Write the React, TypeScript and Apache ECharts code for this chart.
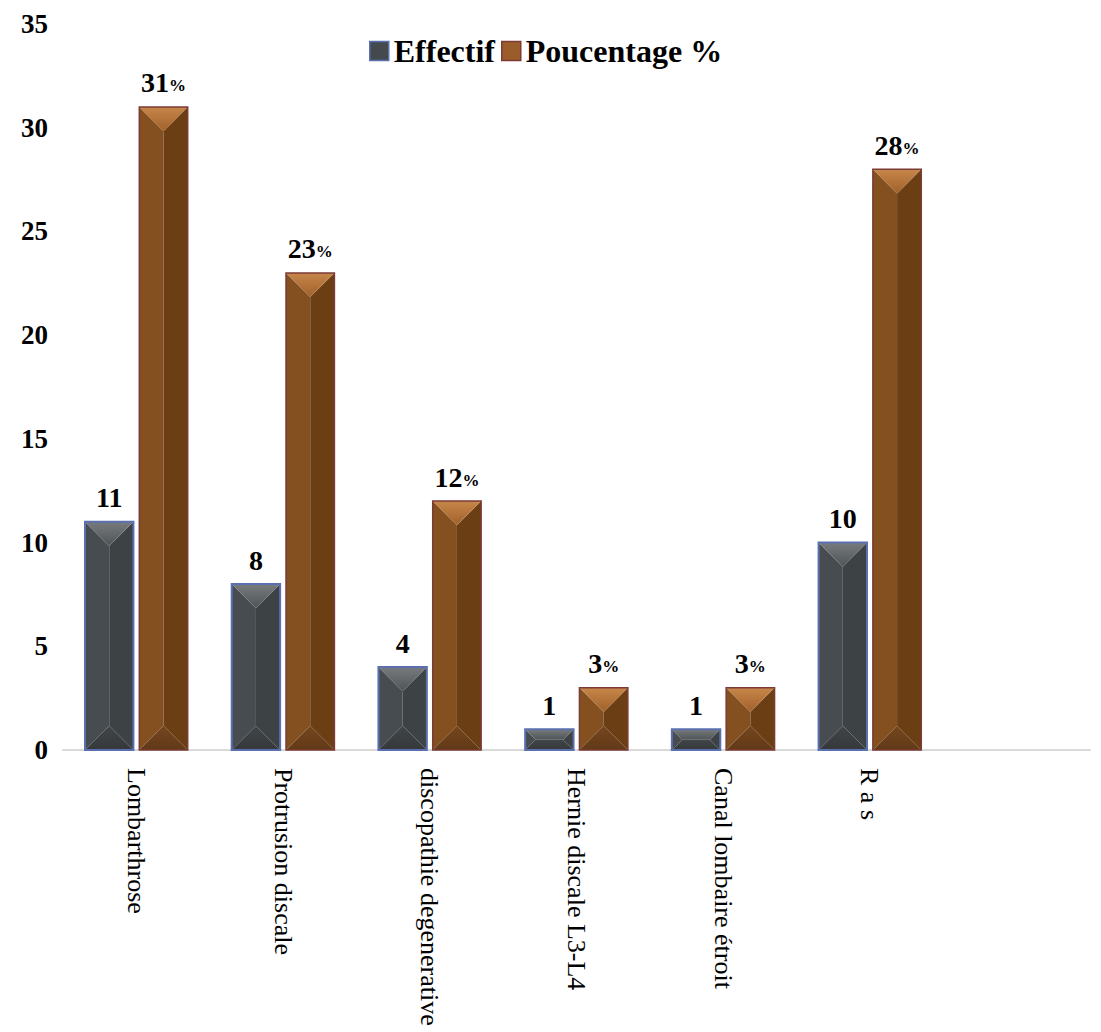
import React, { useEffect, useRef } from "react";
import * as echarts from "echarts";

// Categories (the last slot is left empty, as on the original axis)
const categories: string[] = [
  "Lombarthrose",
  "Protrusion discale",
  "discopathie degenerative",
  "Hernie discale L3-L4",
  "Canal lombaire étroit",
  "R a s",
  "",
];

const effectif: number[] = [11, 8, 4, 1, 1, 10];
const pourcentage: number[] = [31, 23, 12, 3, 3, 28];

const yTicks = { min: 0, max: 35, interval: 5 };

const FONT = '"Liberation Serif", "Times New Roman", serif';

type Palette = {
  left: string;
  right: string;
  topA: string;
  topB: string;
  bottomA: string;
  bottomB: string;
  border: string;
  borderWidth: number;
};

const darkPalette: Palette = {
  left: "#474c50",
  right: "#3d4245",
  topA: "#777b7e",
  topB: "#4f5457",
  bottomA: "#404548",
  bottomB: "#36393c",
  border: "#5b70b0",
  borderWidth: 2,
};

const brownPalette: Palette = {
  left: "#84501f",
  right: "#6c3e14",
  topA: "#c78649",
  topB: "#a0612b",
  bottomA: "#74461d",
  bottomB: "#623a18",
  border: "#7c3b36",
  borderWidth: 1.5,
};

function vGrad(a: string, b: string) {
  return new echarts.graphic.LinearGradient(0, 0, 0, 1, [
    { offset: 0, color: a },
    { offset: 1, color: b },
  ]);
}

// Beveled bar: four facets meeting along the bar's axis, plus a value label on top
function makeRenderItem(side: number, pal: Palette, isPercent: boolean) {
  return (params: any, api: any) => {
    const idx = api.value(0);
    const val = api.value(1);
    const top = api.coord([idx, val]);
    const base = api.coord([idx, 0]);
    const band = api.size([1, 0])[0];
    const w = band * 0.33;
    const gap = band * 0.04;
    const x0 = side < 0 ? top[0] - gap / 2 - w : top[0] + gap / 2;
    const x1 = x0 + w;
    const y0 = top[1];
    const y1 = base[1];
    const h = y1 - y0;
    const d = Math.min(w / 2, h / 2);

    const labelText = isPercent ? `{a|${val}}{b|%}` : `{a|${val}}`;

    return {
      type: "group",
      children: [
        {
          type: "polygon",
          shape: { points: [[x0, y0], [x0 + d, y0 + d], [x0 + d, y1 - d], [x0, y1]] },
          style: { fill: pal.left },
        },
        {
          type: "polygon",
          shape: { points: [[x1, y0], [x1 - d, y0 + d], [x1 - d, y1 - d], [x1, y1]] },
          style: { fill: pal.right },
        },
        {
          type: "polygon",
          shape: {
            points: [
              [x0 + d, y0 + d],
              [x1 - d, y0 + d],
              [x1 - d, y1 - d],
              [x0 + d, y1 - d],
            ],
          },
          style: { fill: pal.left },
        },
        {
          type: "polygon",
          shape: { points: [[x0, y0], [x1, y0], [x1 - d, y0 + d], [x0 + d, y0 + d]] },
          style: { fill: vGrad(pal.topA, pal.topB) },
        },
        {
          type: "polygon",
          shape: { points: [[x0, y1], [x1, y1], [x1 - d, y1 - d], [x0 + d, y1 - d]] },
          style: { fill: vGrad(pal.bottomA, pal.bottomB) },
        },
        {
          type: "rect",
          shape: { x: x0, y: y0, width: w, height: h },
          style: { fill: "none", stroke: pal.border, lineWidth: pal.borderWidth },
        },
        {
          type: "text",
          x: (x0 + x1) / 2,
          y: y0 - 10,
          style: {
            text: labelText,
            align: "center",
            verticalAlign: "bottom",
            fill: "#000",
            rich: {
              a: { fontFamily: FONT, fontWeight: "bold", fontSize: 28, fill: "#000" },
              b: {
                fontFamily: FONT,
                fontWeight: "bold",
                fontSize: 17,
                fill: "#000",
                padding: [6, 0, 0, 0],
              },
            },
          },
        },
      ],
    };
  };
}

export default function App() {
  const ref = useRef<HTMLDivElement>(null);

  useEffect(() => {
    if (!ref.current) return;
    const chart = echarts.init(ref.current, undefined, { renderer: "svg" });

    const option: any = {
      animation: false,
      backgroundColor: "#ffffff",
      legend: {
        left: 364,
        top: 30,
        itemWidth: 19,
        itemHeight: 19,
        itemGap: 6,
        icon: "rect",
        textStyle: {
          fontFamily: FONT,
          fontWeight: "bold",
          fontSize: 32,
          color: "#000",
        },
        data: [
          {
            name: "Effectif",
            itemStyle: { color: "#44494d", borderColor: "#5b70b0", borderWidth: 1.5 },
          },
          {
            name: "Poucentage %",
            itemStyle: { color: "#9a5c2a", borderColor: "#7c3b36", borderWidth: 1.5 },
          },
        ],
      },
      grid: { left: 63, right: 11, top: 24, bottom: 282, containLabel: false },
      xAxis: {
        type: "category",
        data: categories,
        axisLine: { show: true, lineStyle: { color: "#d9d9d9", width: 2 } },
        axisTick: { show: false },
        axisLabel: {
          rotate: -90,
          margin: 18,
          interval: 0,
          fontFamily: FONT,
          fontSize: 26,
          color: "#000",
        },
        splitLine: { show: false },
      },
      yAxis: {
        type: "value",
        min: yTicks.min,
        max: yTicks.max,
        interval: yTicks.interval,
        axisLine: { show: false },
        axisTick: { show: false },
        splitLine: { show: false },
        axisLabel: {
          margin: 15,
          fontFamily: FONT,
          fontWeight: "bold",
          fontSize: 27,
          color: "#000",
        },
      },
      series: [
        {
          name: "Effectif",
          type: "custom",
          renderItem: makeRenderItem(-1, darkPalette, false),
          encode: { x: 0, y: 1 },
          itemStyle: { color: "#44494d" },
          data: effectif.map((v, i) => [i, v]),
        },
        {
          name: "Poucentage %",
          type: "custom",
          renderItem: makeRenderItem(1, brownPalette, true),
          encode: { x: 0, y: 1 },
          itemStyle: { color: "#9a5c2a" },
          data: pourcentage.map((v, i) => [i, v]),
        },
      ],
    };

    chart.setOption(option);
    return () => chart.dispose();
  }, []);

  return (
    <div
      ref={ref}
      style={{ position: "absolute", left: 0, top: 0, width: 1101, height: 1032 }}
    />
  );
}
